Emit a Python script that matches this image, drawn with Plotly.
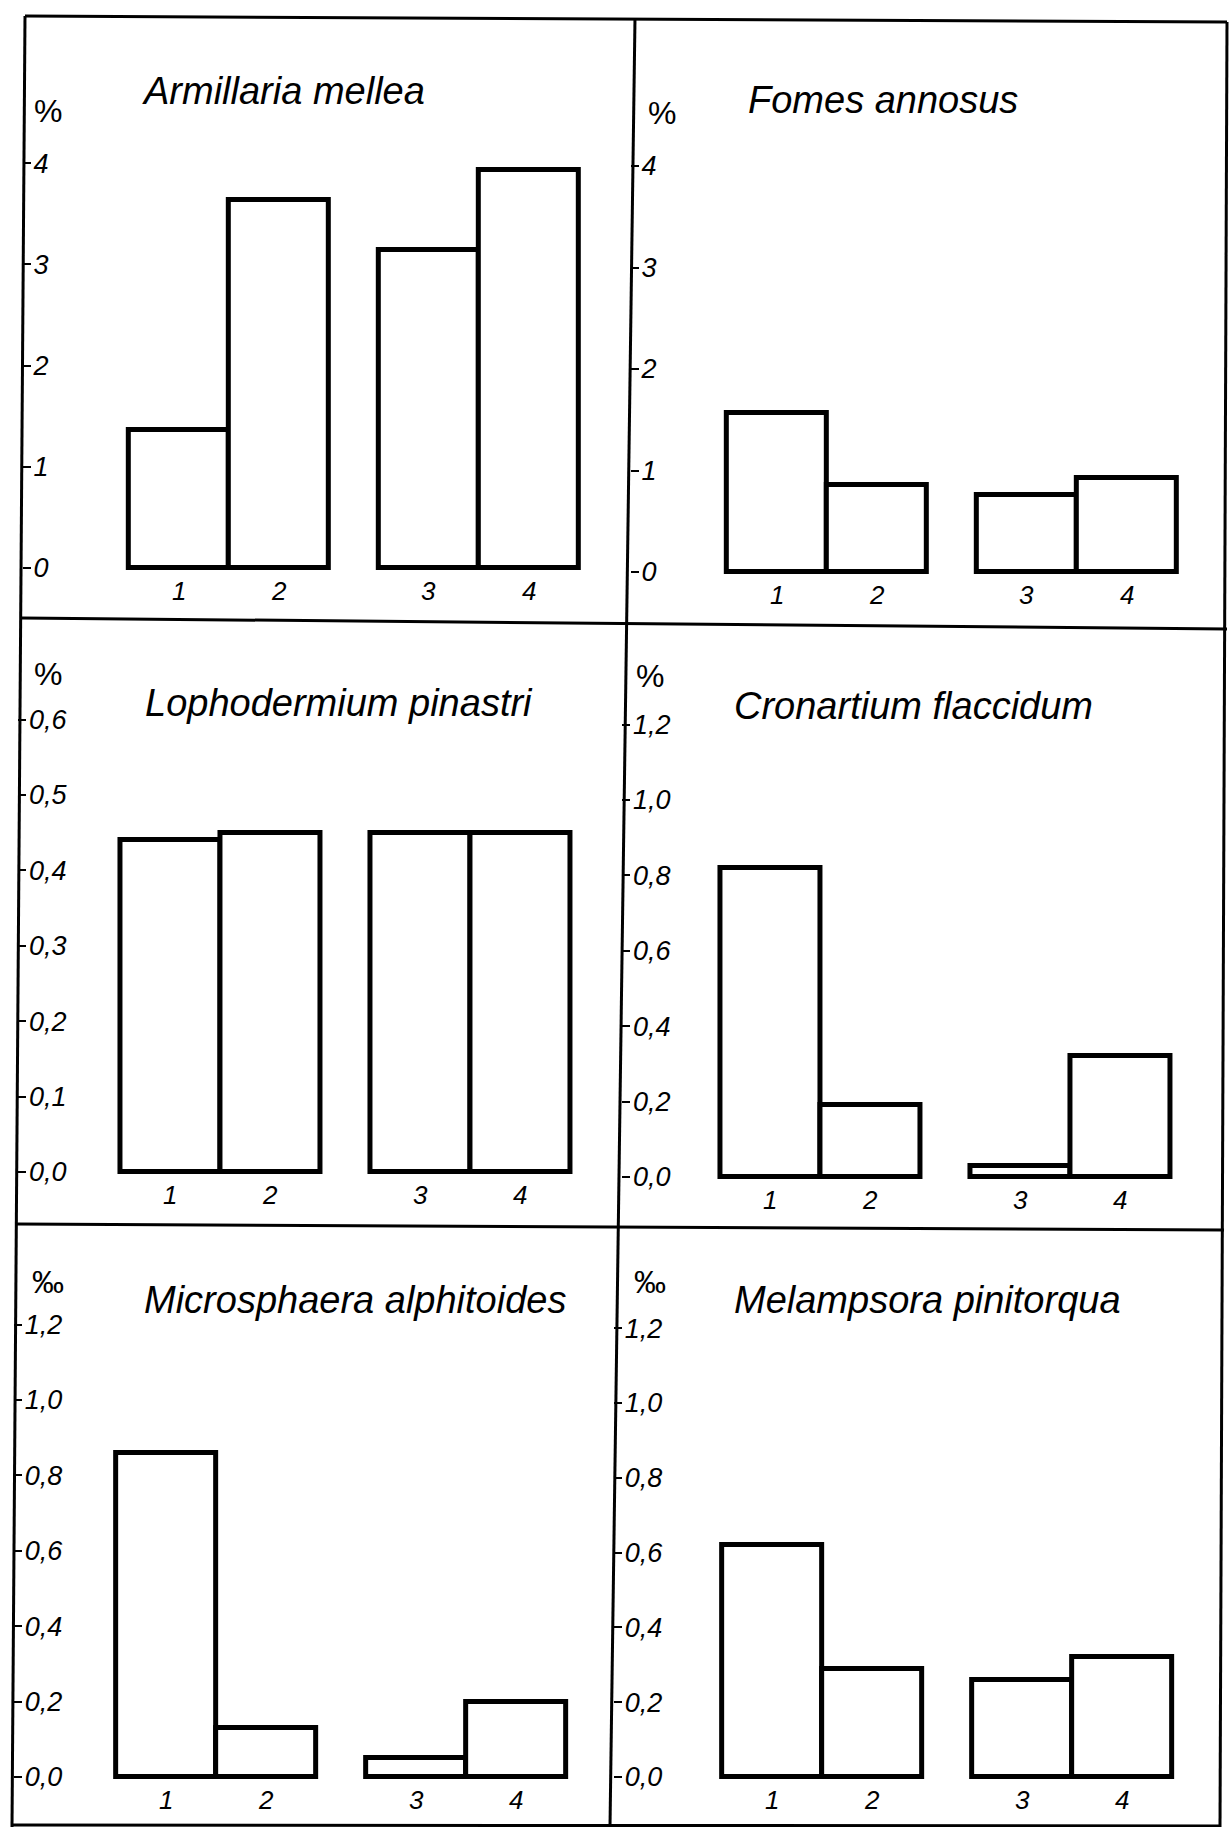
import plotly.graph_objects as go

# ---------------- data ----------------
categories = ["1", "2", "3", "4"]

titles = ["Armillaria mellea", "Fomes annosus",
          "Lophodermium pinastri", "Cronartium flaccidum",
          "Microsphaera alphitoides", "Melampsora pinitorqua"]
units = ["%", "%", "%", "%", "‰", "‰"]

armillaria = [1.36, 3.64, 3.14, 3.93]
fomes = [1.57, 0.86, 0.76, 0.93]
lophodermium = [0.44, 0.45, 0.45, 0.45]
cronartium = [0.82, 0.19, 0.03, 0.32]
microsphaera = [0.86, 0.13, 0.05, 0.20]
melampsora = [0.62, 0.29, 0.26, 0.32]
series = [armillaria, fomes, lophodermium, cronartium, microsphaera, melampsora]

ticks_a = [0, 1, 2, 3, 4]
ticks_a_text = ["0", "1", "2", "3", "4"]
ticks_b = [0.0, 0.1, 0.2, 0.3, 0.4, 0.5, 0.6]
ticks_b_text = ["0,0", "0,1", "0,2", "0,3", "0,4", "0,5", "0,6"]
ticks_c = [0.0, 0.2, 0.4, 0.6, 0.8, 1.0, 1.2]
ticks_c_text = ["0,0", "0,2", "0,4", "0,6", "0,8", "1,0", "1,2"]
panel_ticks = [(ticks_a, ticks_a_text), (ticks_a, ticks_a_text),
               (ticks_b, ticks_b_text), (ticks_c, ticks_c_text),
               (ticks_c, ticks_c_text), (ticks_c, ticks_c_text)]

# ---------------- layout geometry (pixels) ----------------
W, H = 1232, 1827
# frame lines (slightly skewed like the scanned original)
outer_left = ((25, 16), (12, 1827))
outer_right = ((1227, 22), (1220, 1827))
col_div = ((635, 18), (610, 1827))
top_line = ((25, 16), (1227, 22))
row_div1 = ((22, 618), (1227, 629))
row_div2 = ((16, 1224), (1224, 1230))
bottom_line = ((12, 1825), (1220, 1826))

def x_at(line, y):
    (xa, ya), (xb, yb) = line
    return xa + (xb - xa) * (y - ya) / (yb - ya)

rows = [(19, 623), (623, 1227), (1227, 1826)]
zero_px = [568, 572, 1172, 1177, 1777, 1777]
unit_px = [101.2, 101.5, 754, 377, 377, 374]
x_start = [-0.56, -0.46, -0.52, -0.48, -0.52, -0.58]
title_pos = [(140, 91), (746, 100), (143, 703), (732, 706), (142, 1300), (732, 1300)]
unit_pos = [(48, 111), (662, 113), (48, 674), (650, 676), (48, 1282), (650, 1282)]
xpos = [1, 2, 3.5, 4.5]

FONT = "Liberation Sans, Arial, DejaVu Sans, sans-serif"

fig = go.Figure()
annotations = []
layout_axes = {}

for i in range(6):
    r, c = divmod(i, 2)
    top, bot = rows[r]
    mid = (top + bot) / 2
    if c == 0:
        left, right = x_at(outer_left, mid), x_at(col_div, mid)
    else:
        left, right = x_at(col_div, mid), x_at(outer_right, mid)
    n = i + 1
    xa = "x" if n == 1 else f"x{n}"
    ya = "y" if n == 1 else f"y{n}"

    fig.add_trace(go.Bar(
        x=xpos, y=series[i], width=1.0,
        marker=dict(color="white", line=dict(color="black", width=5)),
        xaxis=xa, yaxis=ya, showlegend=False, hoverinfo="skip"))

    ymax = (zero_px[i] - top) / unit_px[i]
    ymin = (zero_px[i] - bot) / unit_px[i]
    x0 = x_start[i]
    x1 = x0 + (right - left) / 100.0

    layout_axes[f"xaxis{n if n > 1 else ''}"] = dict(
        domain=[left / W, right / W], range=[x0, x1], anchor=ya,
        showline=False, showgrid=False, zeroline=False,
        showticklabels=False, ticks="", fixedrange=True)
    tv, tt = panel_ticks[i]
    layout_axes[f"yaxis{n if n > 1 else ''}"] = dict(
        domain=[1 - bot / H, 1 - top / H], range=[ymin, ymax], anchor=xa,
        showline=False, showgrid=False, zeroline=False,
        tickvals=tv, ticktext=tt, ticks="inside", ticklen=8, tickwidth=2,
        tickcolor="black", ticklabelposition="inside", ticklabelstandoff=5,
        tickfont=dict(family=FONT, size=27, color="black", style="italic"),
        fixedrange=True)

    for xp, cat in zip(xpos, categories):
        annotations.append(dict(
            x=xp, y=0, xref=xa, yref=ya, text=cat, showarrow=False,
            yanchor="top", yshift=-6,
            font=dict(family=FONT, size=26, color="black", style="italic")))

    tx, ty = title_pos[i]
    annotations.append(dict(
        x=tx / W, y=1 - ty / H, xref="paper", yref="paper", text=titles[i],
        showarrow=False, xanchor="left", yanchor="middle",
        font=dict(family=FONT, size=38, color="black", style="italic")))
    ux, uy = unit_pos[i]
    annotations.append(dict(
        x=ux / W, y=1 - uy / H, xref="paper", yref="paper", text=units[i],
        showarrow=False, xanchor="center", yanchor="middle",
        font=dict(family=FONT, size=32, color="black")))

shapes = []
for line in [outer_left, outer_right, col_div, top_line, row_div1, row_div2, bottom_line]:
    (xa_, ya_), (xb_, yb_) = line
    shapes.append(dict(type="line", xref="paper", yref="paper",
                       x0=xa_ / W, y0=1 - ya_ / H, x1=xb_ / W, y1=1 - yb_ / H,
                       line=dict(color="black", width=3)))

fig.update_layout(
    width=W, height=H, margin=dict(l=0, r=0, t=0, b=0),
    paper_bgcolor="white", plot_bgcolor="white",
    annotations=annotations, shapes=shapes, bargap=0, **layout_axes)

fig.write_html("out.html", config={"displayModeBar": False},
               post_script="document.body.style.margin='0';document.body.style.overflow='hidden';")
